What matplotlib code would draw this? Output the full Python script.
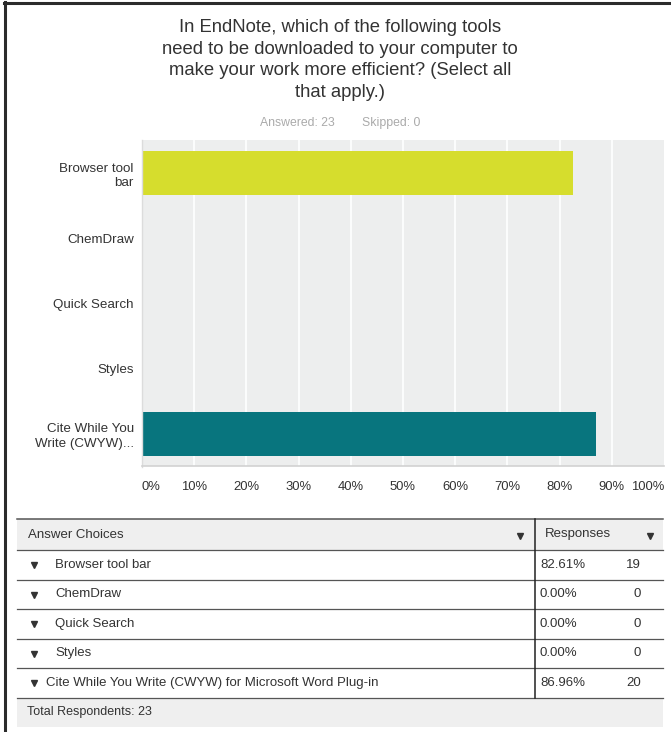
import matplotlib.pyplot as plt

plt.rcParams['font.family'] = ['Liberation Sans', 'DejaVu Sans']

title = ("In EndNote, which of the following tools\n"
         "need to be downloaded to your computer to\n"
         "make your work more efficient? (Select all\n"
         "that apply.)")
answered = 23
skipped = 0

bar_labels = ["Browser tool\nbar", "ChemDraw", "Quick Search", "Styles",
              "Cite While You\nWrite (CWYW)..."]
choices = ["Browser tool bar", "ChemDraw", "Quick Search", "Styles",
           "Cite While You Write (CWYW) for Microsoft Word Plug-in"]
percents = [82.61, 0.0, 0.0, 0.0, 86.96]
counts = [19, 0, 0, 0, 20]
bar_colors = ["#D6DD2D", "#D6DD2D", "#D6DD2D", "#D6DD2D", "#08757E"]
x_ticks = [0, 10, 20, 30, 40, 50, 60, 70, 80, 90, 100]

W, H = 671, 732
fig = plt.figure(figsize=(W / 100, H / 100), dpi=100)

# overlay in pixel coordinates for text and the table
ov = fig.add_axes([0, 0, 1, 1])
ov.set_xlim(0, W)
ov.set_ylim(H, 0)
ov.axis("off")

# frame of the screenshot (top and left edges)
ov.plot([4, W], [2.5, 2.5], color="#2b2b2b", lw=2.2)
ov.plot([4.5, 4.5], [2, H], color="#2b2b2b", lw=2.2)

ov.text(340, 60, title, ha="center", va="center", fontsize=13.3,
        color="#333333", linespacing=1.38)
ov.text(297, 123, f"Answered: {answered}", ha="center", va="center",
        fontsize=8.8, color="#aaaaaa")
ov.text(391, 123, f"Skipped: {skipped}", ha="center", va="center",
        fontsize=8.8, color="#aaaaaa")

# bar chart
left, right, top, bottom = 142, 664, 140.5, 466.5
ax = fig.add_axes([left / W, 1 - bottom / H, (right - left) / W,
                   (bottom - top) / H])
ax.set_facecolor("#EDEEEE")
ypos = list(range(len(bar_labels)))
ax.barh(ypos, percents, height=0.675, color=bar_colors, zorder=2)
ax.set_xlim(0, 100)
ax.set_ylim(len(bar_labels) - 0.5, -0.5)
for t in x_ticks[1:-1]:
    ax.axvline(t, color="white", lw=1.2, zorder=1)
ax.set_xticks([])
ax.set_yticks(ypos)
ax.set_yticklabels(bar_labels, fontsize=9.6, color="#333333",
                   linespacing=1.3)
ax.tick_params(axis="y", length=0, pad=6)
for s in ["top", "right"]:
    ax.spines[s].set_visible(False)
ax.spines["left"].set_color("#dcdcdc")
ax.spines["bottom"].set_color("#d2d2d2")
ax.spines["left"].set_linewidth(1)
ax.spines["bottom"].set_linewidth(1.2)

for t in x_ticks:
    px = left + (right - left) * t / 100
    ha = "center"
    if t == 0:
        ha = "left"
    elif t == 100:
        ha = "right"
    ov.text(px, 487, f"{t}%", ha=ha, va="center", fontsize=9.4,
            color="#333333")

# table
tl, tr, div = 17, 663, 535
row_edges = [519, 550, 579.5, 609, 638.5, 668, 697.5]
total_bottom = 727
line_c = "#555555"
fs = 9.5

ov.fill_between([tl, tr], row_edges[0], row_edges[1], color="#EFEFEF", lw=0)
ov.fill_between([tl, tr], row_edges[-1], total_bottom, color="#EFEFEF", lw=0)
ov.plot([tl, tr], [row_edges[0]] * 2, color=line_c, lw=1.1)
for y in row_edges[1:]:
    ov.plot([tl, tr], [y, y], color=line_c, lw=0.9)
ov.plot([div, div], [row_edges[0], row_edges[-1]], color="#222222", lw=1.1)

hy = (row_edges[0] + row_edges[1]) / 2
ov.text(28, hy, "Answer Choices", ha="left", va="center", fontsize=fs,
        color="#333333")
ov.text(545, hy, "Responses", ha="left", va="center", fontsize=fs,
        color="#333333")
ov.plot([520], [hy + 1.5], marker="v", color="#333333", ms=4)
ov.plot([650], [hy + 1.5], marker="v", color="#333333", ms=4)

for i, (name, pct, n) in enumerate(zip(choices, percents, counts)):
    cy = (row_edges[i + 1] + row_edges[i + 2]) / 2
    ov.plot([34], [cy + 0.5], marker="v", color="#333333", ms=4)
    tx = 46 if len(name) > 30 else 55
    ov.text(tx, cy, name, ha="left", va="center", fontsize=fs,
            color="#333333")
    ov.text(540, cy, f"{pct:.2f}%", ha="left", va="center", fontsize=fs,
            color="#333333")
    ov.text(641, cy, str(n), ha="right", va="center", fontsize=fs,
            color="#333333")

ov.text(27, (row_edges[-1] + total_bottom) / 2,
        f"Total Respondents: {answered}", ha="left", va="center",
        fontsize=9.0, color="#333333")

fig.savefig("out.png", dpi=100, facecolor="white")
